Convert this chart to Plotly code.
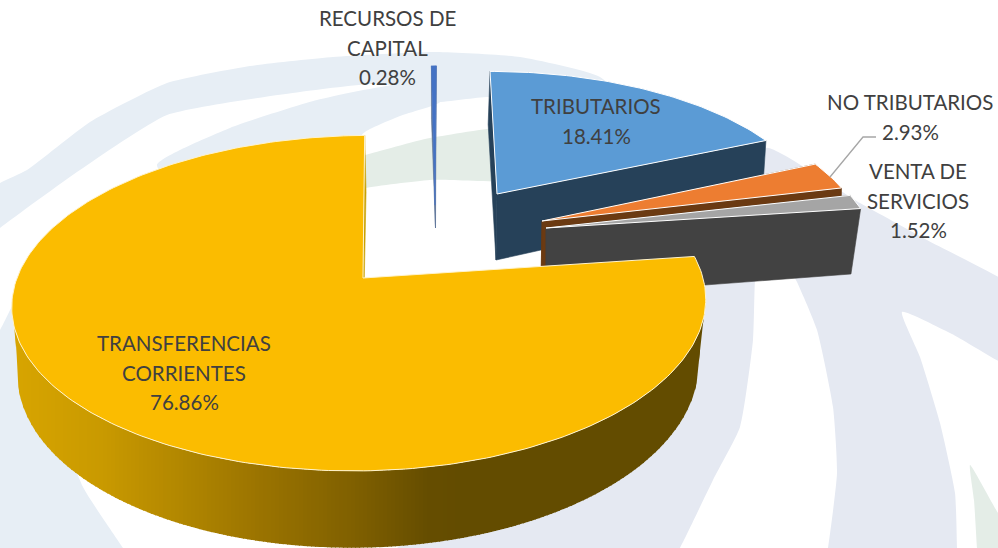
import numpy as np
import plotly.graph_objects as go

# ---- data -------------------------------------------------------------
categories = ["TRIBUTARIOS", "NO TRIBUTARIOS", "VENTA DE SERVICIOS",
              "TRANSFERENCIAS CORRIENTES", "RECURSOS DE CAPITAL"]
shares = [18.41, 2.93, 1.52, 76.86, 0.28]
share_labels = ["18.41%", "2.93%", "1.52%", "76.86%", "0.28%"]
label_lines = [["TRIBUTARIOS"], ["NO TRIBUTARIOS"], ["VENTA DE", "SERVICIOS"],
               ["TRANSFERENCIAS", "CORRIENTES"], ["RECURSOS DE", "CAPITAL"]]

# ---- projection of the tilted, exploded pie (one entry per slice) -----
P = 0.15
proj = {
    "TRIBUTARIOS": dict(top=(497, 194, 315, 315, 141, -8), low=(496, 260, 312, 312, 156, -9)),
    "NO TRIBUTARIOS": dict(top=(542, 221, 320, 320, 150, -8), low=(541, 285, 320, 320, 150, -8)),
    "VENTA DE SERVICIOS": dict(top=(546, 228, 325, 325, 148, -8), low=(546, 297, 315, 315, 175, -8)),
    "TRANSFERENCIAS CORRIENTES": dict(top=(363, 278, 340, 346, 164, 8), low=(363, 343, 333, 340, 174, 9.5)),
    "RECURSOS DE CAPITAL": dict(top=(435, 205, 320, 320, 160, 1.5), low=(435.5, 228, 320, 320, 125, 1.0)),
}
styles = {
    "TRIBUTARIOS": dict(face="#5B9BD5", wall="#264159", edge="#FFFFFF"),
    "NO TRIBUTARIOS": dict(face="#ED7D31", wall="#6B3A12", edge="#FFFFFF"),
    "VENTA DE SERVICIOS": dict(face="#A5A5A5", wall="#424242", edge="#FFFFFF"),
    "TRANSFERENCIAS CORRIENTES": dict(face="#FBBC00", wall="#C9A100", edge="#FFF3CC"),
    "RECURSOS DE CAPITAL": dict(face="#4472C4", wall="#5C7399", edge=None),
}
label_pos = {
    "TRIBUTARIOS": (596, 106),
    "NO TRIBUTARIOS": (910, 102),
    "VENTA DE SERVICIOS": (918, 171),
    "TRANSFERENCIAS CORRIENTES": (184, 343),
    "RECURSOS DE CAPITAL": (387, 18),
}
LINE_PITCH = 29.5
FONT_SIZE = 20.5
gradient_stops = [(15, (216, 165, 0)), (103, (201, 154, 0)), (260, (155, 116, 0)),
                  (360, (126, 95, 0)), (427, (102, 78, 0)), (470, (99, 76, 0)), (998, (99, 76, 0))]

# watermark behind the chart
BLUE_WM, LAV_WM, GREEN_WM = "#E7EEF5", "#E5E9F2", "#E4EDE7"
watermark = [
    (BLUE_WM, [(-40, 212), (0, 183), (27, 170), (90, 122), (167, 83), (250, 66), (333, 57), (433, 52), (520, 57), (600, 77),
               (640, 120), (490, 97), (433, 102), (384, 84), (300, 92), (167, 115), (80, 170), (0, 228), (-40, 262)]),
    (BLUE_WM, [(200, 210), (157, 165), (230, 128), (317, 100), (400, 85), (440, 102), (400, 116), (365, 132), (300, 200)]),
    (GREEN_WM, [(330, 162), (365, 155), (430, 138), (560, 125), (560, 178), (430, 180), (365, 188), (330, 196)]),
    (BLUE_WM, [(-40, 380), (0, 330), (20, 295), (80, 300), (60, 420), (83, 487), (123, 548), (150, 590), (-40, 590)]),
    (LAV_WM, [(360, 590), (397, 548), (470, 500), (620, 300), (690, 240), (760, 240), (755, 280), (753, 340), (740, 427), (713, 480), (680, 548), (655, 590)]),
    (LAV_WM, [(766, 148), (860, 203), (927, 240), (1040, 305), (1040, 380), (950, 333), (902, 312), (920, 357), (940, 423),
              (955, 493), (957, 548), (958, 590), (820, 590), (828, 548), (837, 473), (833, 407), (817, 330), (797, 282), (770, 230)]),
    (GREEN_WM, [(970, 465), (998, 513), (1030, 560), (1030, 590), (980, 590), (977, 548), (974, 500)]),
]
leader = dict(x=[830, 863, 876], y=[177, 137, 137])


# ---- geometry helpers --------------------------------------------------
def pt(theta_deg, params, radius=1.0):
    ax, ay, rr, rl, h, k = params
    th = np.radians(theta_deg)
    u, v = radius * np.sin(th), radius * np.cos(th)
    s = 1.0 / (1.0 + P * v)
    r = np.where(u < 0, rl, rr)
    return ax + (r * u + k * v) * s, ay - h * v * s


def arc(a0, a1, params, step=1.0):
    n = max(2, int(abs(a1 - a0) / step) + 1)
    return pt(np.linspace(a0, a1, n), params)


def grad_colour(x):
    xs = [s[0] for s in gradient_stops]
    rgb = [np.interp(x, xs, [s[1][i] for s in gradient_stops]) for i in range(3)]
    return "rgb(%d,%d,%d)" % tuple(rgb)


def poly(fig, xs, ys, fill, line=None, width=1.0, smooth=False, bare=False):
    ln = dict(color=line if line else fill, width=width if line else 0.6)
    if smooth:
        ln.update(shape="spline", smoothing=0.5, width=0)
    if bare:
        ln.update(width=0)
    fig.add_trace(go.Scatter(x=list(xs), y=list(ys), mode="lines", fill="toself",
                             fillcolor=fill, line=ln, hoverinfo="skip", showlegend=False))


# ---- figure ------------------------------------------------------------
fig = go.Figure()
for colour, pts in watermark:
    poly(fig, [p[0] for p in pts] + [pts[0][0]], [p[1] for p in pts] + [pts[0][1]], colour, smooth=True)

# cumulative angles, clockwise from 12 o'clock
edges = np.concatenate([[0.0], np.cumsum(shares)]) / sum(shares) * 360.0
span = {c: (edges[i], edges[i + 1]) for i, c in enumerate(categories)}


def gradient_wall(top, low):
    """Outer wall of the large slice as vertical strips, shaded by x."""
    ang = np.arange(262.0, 96.0, -1.0)
    ux, uy = pt(ang, top)
    lx, ly = pt(ang, low)
    lo_x = np.concatenate([[ux[0]], lx, [ux[-1]]])
    lo_y = np.concatenate([[uy[0]], ly, [uy[-1]]])
    grid = np.unique(np.clip(np.arange(np.floor(ux[0]), np.ceil(ux[-1]) + 4, 4.0), ux[0], ux[-1]))
    for x0, x1 in zip(grid[:-1], grid[1:]):
        # every strip runs a little into the next one, so that no seam shows
        x2 = min(x1 + 1.0, ux[-1])
        xs_strip = np.linspace(x0, x2, 4)
        up = np.interp(xs_strip, ux, uy)
        lo = np.interp(xs_strip, lo_x, lo_y)
        poly(fig, np.concatenate([xs_strip, xs_strip[::-1], xs_strip[:1]]),
             np.concatenate([up, lo[::-1], up[:1]]),
             grad_colour((x0 + x1) / 2), bare=True)


def draw_slice(name):
    a0, a1 = span[name]
    st, pr = styles[name], proj[name]
    top, low = pr["top"], pr["low"]
    tx, ty = arc(a0, a1, top)
    # cut walls
    cuts = [a1] if name == "TRANSFERENCIAS CORRIENTES" else [a0, a1]
    for a in cuts:
        ex, ey = pt(a, top)
        lx, ly = pt(a, low)
        poly(fig, [top[0], ex, lx, low[0], top[0]], [top[1], ey, ly, low[1], top[1]], st["wall"])
    if name == "TRANSFERENCIAS CORRIENTES":
        gradient_wall(top, low)
    # top face
    xs = np.concatenate([[top[0]], tx, [top[0]]])
    ys = np.concatenate([[top[1]], ty, [top[1]]])
    poly(fig, xs, ys, st["face"], line=st["edge"], width=1.0)


for name in ["RECURSOS DE CAPITAL", "TRIBUTARIOS", "NO TRIBUTARIOS",
             "VENTA DE SERVICIOS", "TRANSFERENCIAS CORRIENTES"]:
    draw_slice(name)

fig.add_trace(go.Scatter(x=leader["x"], y=leader["y"], mode="lines",
                         line=dict(color="#A6A6A6", width=1.3), hoverinfo="skip", showlegend=False))

annotations = []
for i, c in enumerate(categories):
    x, y = label_pos[c]
    for j, t in enumerate(label_lines[i] + [share_labels[i]]):
        annotations.append(dict(x=x, y=y + j * LINE_PITCH, text=t, showarrow=False,
                                xanchor="center", yanchor="middle",
                                font=dict(family="Lato", size=FONT_SIZE, color="#404040")))

fig.update_layout(
    width=998, height=548, margin=dict(l=0, r=0, t=0, b=0, pad=0),
    paper_bgcolor="white", plot_bgcolor="white", showlegend=False,
    annotations=annotations,
    xaxis=dict(range=[0, 998], visible=False, fixedrange=True),
    yaxis=dict(range=[548, 0], visible=False, fixedrange=True),
)
fig.write_html("out.html", config=dict(displayModeBar=False),
               default_width="998px", default_height="548px",
               post_script="document.body.style.margin='0';")
